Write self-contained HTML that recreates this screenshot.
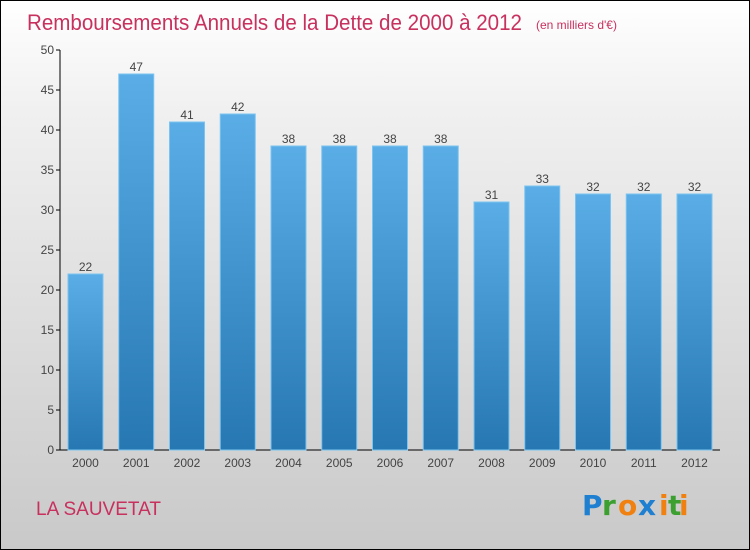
<!DOCTYPE html>
<html><head><meta charset="utf-8"><style>
body{margin:0;}
#c{width:750px;height:550px;position:relative;box-sizing:border-box;border:1px solid #000;background:linear-gradient(#fff,#f0f0f0 20%,#c9c9c9);font-family:"Liberation Sans",sans-serif;overflow:hidden}
</style></head><body>
<div id="c">
<svg width="750" height="550" style="position:absolute;left:-1px;top:-1px">
<defs><linearGradient id="g" x1="0" y1="0" x2="0" y2="1"><stop offset="0" stop-color="#5aade6"/><stop offset="1" stop-color="#2677b2"/></linearGradient></defs>
<text x="27" y="30" font-size="22" fill="#c8305e" textLength="495" lengthAdjust="spacingAndGlyphs">Remboursements Annuels de la Dette de 2000 à 2012</text>
<text x="536" y="29" font-size="12" fill="#c8305e">(en milliers d'€)</text>
<g id="plot"></g>
<text x="36" y="515" font-size="19" fill="#c8305e">LA SAUVETAT</text>
<g font-size="28" font-family="'DejaVu Sans',sans-serif" font-weight="bold">
<text x="582" y="515" fill="#1f7fd0">P</text><text x="602" y="515" fill="#3ca030">r</text><text x="618" y="515" fill="#f08010">o</text><text x="638" y="515" fill="#1f7fd0">x</text><text x="659" y="515" fill="#f08010">i</text><text x="668" y="515" fill="#3ca030">t</text><text x="679" y="515" fill="#f08010">i</text>
</g>
</svg>
</div>
<script>
const years=["2000","2001","2002","2003","2004","2005","2006","2007","2008","2009","2010","2011","2012"];
const values=[22,47,41,42,38,38,38,38,31,33,32,32,32];
const yTicks=[0,5,10,15,20,25,30,35,40,45,50];
const NS="http://www.w3.org/2000/svg";
const g=document.getElementById('plot');
const y0=450,ppu=8,x0=68,step=50.75,bw=35;
const yS=v=>y0-v*ppu, xS=i=>x0+i*step;
function mk(t,a){const e=document.createElementNS(NS,t);for(const k in a)e.setAttribute(k,a[k]);g.appendChild(e);return e;}
let ax=mk('line',{x1:60,y1:50,x2:60,y2:450,stroke:'#000'});


let bx=mk('line',{x1:60,y1:450,x2:720,y2:450,stroke:'#000'});


yTicks.forEach(v=>{
 const t=mk('line',{x1:56,x2:60,y1:yS(v),y2:yS(v),stroke:'#000'});
 
 
 const l=mk('text',{x:54,y:yS(v)+4,'font-size':12,fill:'#444','text-anchor':'end'});
 l.textContent=v;
 
 
});
values.forEach((v,i)=>{
 const x=xS(i);
 const r=mk('rect',{x:x,y:yS(v),width:bw,height:v*ppu,fill:'url(#g)',stroke:'#7cc4f0','stroke-width':1});
 
 
 const t=mk('text',{x:x+bw/2,y:yS(v)-3,'font-size':12,fill:'#444','text-anchor':'middle'});
 t.textContent=v;
 
 
 const xl=mk('text',{x:x+bw/2,y:467,'font-size':12,fill:'#444','text-anchor':'middle'});
 xl.textContent=years[i];
 
 
});
</script>
</body></html>
